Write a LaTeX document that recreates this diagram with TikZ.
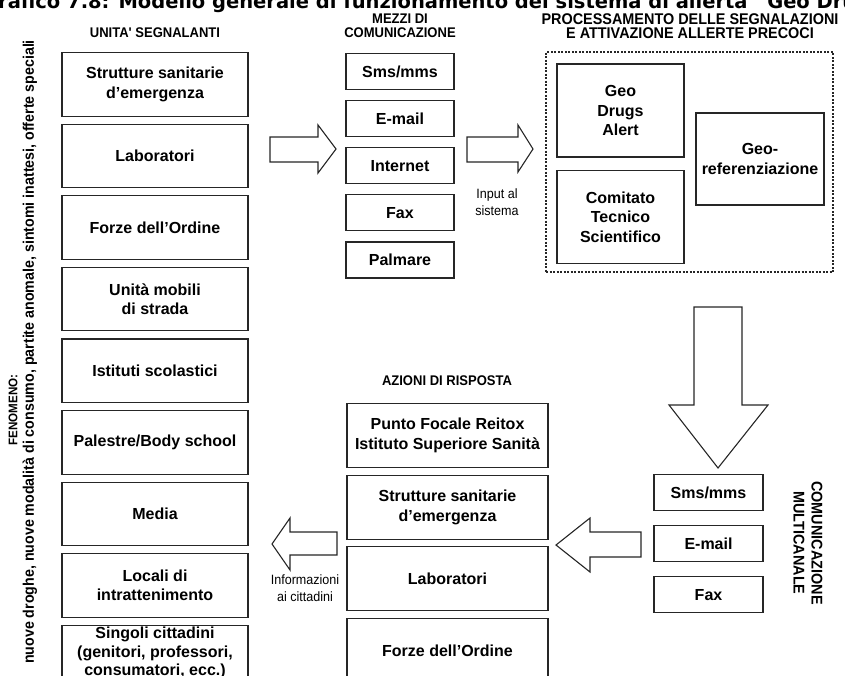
\documentclass[tikz,border=0pt]{standalone}
\usepackage{fontspec}
\setmainfont{Liberation Sans}
\newfontfamily\headfont[FakeStretch=0.93]{Liberation Sans}
\newfontfamily\titlefont{DejaVu Sans}
\usetikzlibrary{positioning}

\begin{document}
\begin{tikzpicture}[x=1pt, y=-1pt,
    box/.style={draw=black!85, line width=1.1pt, align=center, inner sep=2pt,
        font=\fontsize{16}{19.5}\selectfont\bfseries},
    lbox/.style={box, minimum width=186pt, minimum height=63.5pt},
    mbox/.style={box, minimum width=108pt, minimum height=36pt},
    pbox/.style={box, minimum width=127pt, minimum height=93pt},
    abox/.style={box, minimum width=201pt, minimum height=64pt},
    cbox/.style={box, minimum width=109pt, minimum height=36pt},
    head/.style={align=center, font=\headfont\fontsize{14}{13.5}\selectfont\bfseries},
    note/.style={align=center, font=\headfont\fontsize{13.5}{16.5}\selectfont},
    bigarrow/.style={draw=black!85, line width=1.1pt, fill=white, line join=miter}]

\useasboundingbox (0,0) rectangle (845,675);

% titolo (tagliato in alto)
\node[anchor=base west, inner sep=0pt, font=\titlefont\fontsize{19.5}{19.5}\selectfont\bfseries] (title) at (-18,8)
    {Grafico 7.8: Modello generale di funzionamento del sistema di allerta “Geo Drugs Alert”};

% unita' segnalanti
\node[lbox, anchor=north] (us1) at (155,52) {Strutture sanitarie\\d'emergenza};
\node[lbox, below=7pt of us1] (us2) {Laboratori};
\node[lbox, below=7pt of us2] (us3) {Forze dell'Ordine};
\node[lbox, below=7pt of us3] (us4) {Unità mobili\\di strada};
\node[lbox, below=7pt of us4] (us5) {Istituti scolastici};
\node[lbox, below=7pt of us5] (us6) {Palestre/Body school};
\node[lbox, below=7pt of us6] (us7) {Media};
\node[lbox, below=7pt of us7] (us8) {Locali di\\intrattenimento};
\node[lbox, below=7pt of us8, font=\fontsize{16}{18.5}\selectfont\bfseries, text depth=16pt] (us9)
    {Singoli cittadini\\(genitori, professori,\\consumatori, ecc.)};
\node[head] (h1) at (155,33) {UNITA' SEGNALANTI};

% fenomeno
\node[head, rotate=90, font=\headfont\fontsize{12.5}{12.5}\selectfont\bfseries] (fen) at (13,410) {FENOMENO:};
\node[head, rotate=90, font=\headfont\fontsize{15.3}{15.3}\selectfont\bfseries] (fentxt) at (30,352)
    {nuove droghe, nuove modalità di consumo, partite anomale, sintomi inattesi, offerte speciali};

% mezzi di comunicazione
\node[mbox, anchor=north] (m1) at (400,53) {Sms/mms};
\node[mbox, below=10pt of m1] (m2) {E-mail};
\node[mbox, below=10pt of m2] (m3) {Internet};
\node[mbox, below=10pt of m3] (m4) {Fax};
\node[mbox, below=10pt of m4] (m5) {Palmare};
\node[head] (h2) at (400,26) {MEZZI DI\\COMUNICAZIONE};

% processamento
\node[draw=black!85, line width=1.1pt, dash pattern=on 2pt off 1.5pt,
    minimum width=287pt, minimum height=220pt] (proc) at (689.5,162) {};
\node[pbox] (gda) at (620.5,110.5) {Geo\\Drugs\\Alert};
\node[pbox] (cts) at (620.5,217) {Comitato\\Tecnico\\Scientifico};
\node[box, minimum width=128pt, minimum height=92pt] (geo) at (760,159) {Geo-\\referenziazione};
\node[head, font=\headfont\fontsize{15.5}{14}\selectfont\bfseries] (h3) at (690,26)
    {PROCESSAMENTO DELLE SEGNALAZIONI\\E ATTIVAZIONE ALLERTE PRECOCI};

% frecce superiori
\draw[bigarrow] (270,137) -- (318,137) -- (318,125) -- (336,149) -- (318,173) -- (318,162) -- (270,162) -- cycle;
\draw[bigarrow] (467,137) -- (518,137) -- (518,125) -- (533,149) -- (518,172) -- (518,162) -- (467,162) -- cycle;
\node[note] (inp) at (497,202) {Input al\\sistema};

% freccia verso il basso
\draw[bigarrow] (694,307) -- (742,307) -- (742,405) -- (768,405) -- (718,468) -- (669,405) -- (694,405) -- cycle;

% comunicazione multicanale
\node[cbox, anchor=north] (c1) at (708.5,474) {Sms/mms};
\node[cbox, below=14pt of c1] (c2) {E-mail};
\node[cbox, below=14pt of c2] (c3) {Fax};
\node[head, rotate=-90, font=\headfont\fontsize{15.5}{18}\selectfont\bfseries] (multi) at (808,543)
    {COMUNICAZIONE\\MULTICANALE};

% azioni di risposta
\node[abox, anchor=north] (a1) at (447.5,403) {Punto Focale Reitox\\Istituto Superiore Sanità};
\node[abox, below=6.5pt of a1] (a2) {Strutture sanitarie\\d'emergenza};
\node[abox, below=6.5pt of a2] (a3) {Laboratori};
\node[abox, below=6.5pt of a3] (a4) {Forze dell'Ordine};
\node[head] (h4) at (447,381) {AZIONI DI RISPOSTA};

% frecce inferiori
\draw[bigarrow] (641,532) -- (590,532) -- (590,518) -- (556,545) -- (590,572) -- (590,557) -- (641,557) -- cycle;
\draw[bigarrow] (337,532) -- (290,532) -- (290,518) -- (272,544) -- (290,570) -- (290,555) -- (337,555) -- cycle;
\node[note] (info) at (305,588) {Informazioni\\ai cittadini};

\end{tikzpicture}
\end{document}
